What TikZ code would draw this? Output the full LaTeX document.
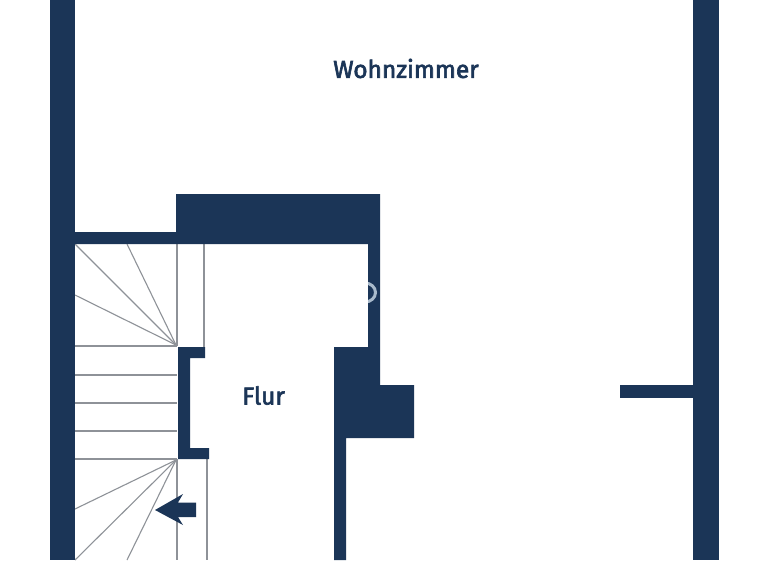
\documentclass[tikz,border=0pt]{standalone}
\usepackage{fontspec}
\setmainfont{Fira Sans}
\newfontfamily\labelfont{Fira Sans}[UprightFeatures={RawFeature={embolden=2.6}}]
\definecolor{wallblue}{HTML}{1B3557}
\definecolor{stairgrey}{HTML}{8E9298}
\definecolor{markgrey}{HTML}{A9BACB}
\tikzset{
  wall/.style={fill=wallblue,draw=none},
  tread/.style={draw=stairgrey,line width=1.1pt},
  roomlabel/.style={text=wallblue,font=\fontsize{24.5pt}{28pt}\labelfont,inner sep=0pt}
}
\begin{document}
\begin{tikzpicture}[x=1pt,y=-1pt,line join=miter]
\useasboundingbox (0,0) rectangle (768,560);
\fill[white] (0,0) rectangle (768,560);
% stairs
\foreach \y in {346,375,403,431,459} \draw[tread] (75,\y) -- (177,\y);
\draw[tread] (177,244) -- (177,346);
\draw[tread] (204,244) -- (204,347);
\draw[tread] (177,459) -- (177,560);
\draw[tread] (207,459) -- (207,560);
\draw[tread] (176,345) -- (75,244);
\draw[tread] (176,345) -- (127,244);
\draw[tread] (176,345) -- (75,295);
\draw[tread] (176,460) -- (75,509);
\draw[tread] (176,460) -- (75,560);
\draw[tread] (176,460) -- (127,560);
% walls
\fill[wall] (50,0) rectangle (75,560);
\fill[wall] (693,0) rectangle (719,560);
\fill[wall] (75,232) -- (176,232) -- (176,194) -- (380,194) -- (380,385) -- (414,385) -- (414,438) -- (346,438) -- (346,560) -- (334,560) -- (334,347) -- (368,347) -- (368,244) -- (75,244) -- cycle;
\fill[wall] (620,385) rectangle (693,398);
\fill[wall] (178,347) -- (205,347) -- (205,358) -- (190,358) -- (190,448) -- (209,448) -- (209,459) -- (178,459) -- cycle;
% arrow
\fill[wall] (155,510) -- (183,494) -- (178,502.5) -- (196,502.5) -- (196,517) -- (178,517) -- (183,525) -- cycle;
% watermark remnant, visible only over the wall
\begin{scope}
\clip (368,270) rectangle (380,320);
\draw[markgrey,line width=3pt] (365,292.5) ellipse [x radius=10.5,y radius=9.5];
\end{scope}
\node[roomlabel] (wohn) at (406,68.5) {Wohnzimmer};
\node[roomlabel] (flur) at (263.5,395.5) {Flur};
\end{tikzpicture}
\end{document}
